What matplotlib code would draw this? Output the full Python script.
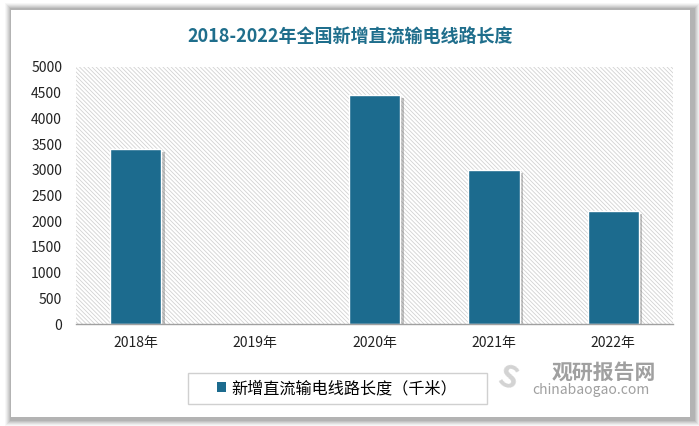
import matplotlib
matplotlib.use("Agg")
import matplotlib.pyplot as plt
from matplotlib.patches import Rectangle
import matplotlib.patheffects as pe

plt.rcParams['font.family'] = ['Noto Sans CJK SC', 'DejaVu Sans']
plt.rcParams['hatch.color'] = '#d2d2d2'
plt.rcParams['hatch.linewidth'] = 0.6

title = "2018-2022年全国新增直流输电线路长度"
categories = ["2018年", "2019年", "2020年", "2021年", "2022年"]
values = [3400, 0, 4450, 3000, 2200]
series_name = "新增直流输电线路长度（千米）"
yticks = [0, 500, 1000, 1500, 2000, 2500, 3000, 3500, 4000, 4500, 5000]

W, H = 699, 426
fig = plt.figure(figsize=(W / 100, H / 100), dpi=100)
fig.patch.set_facecolor('white')

def fx(x):
    return x / W

def fy(y):
    return 1 - y / H

# card shadow (soft)
cx0, cy0, cx1, cy1 = 11, 10, 690, 417
for i, a in enumerate([0.03, 0.04, 0.05, 0.06, 0.07, 0.08]):
    d = 8 - i
    fig.patches.append(Rectangle((fx(cx0 - d + 2), fy(cy1 + d + 1)),
                                 fx(cx1 - cx0 + 2 * d), (cy1 - cy0 + 2 * d) / H,
                                 transform=fig.transFigure, facecolor='black',
                                 edgecolor='none', alpha=a, zorder=0))
fig.patches.append(Rectangle((fx(cx0), fy(cy1)), fx(cx1 - cx0), (cy1 - cy0) / H,
                             transform=fig.transFigure, facecolor='white',
                             edgecolor='none', zorder=1))

ax_l, ax_r, ax_t, ax_b = 76, 673, 67, 324
ax = fig.add_axes([fx(ax_l), fy(ax_b), fx(ax_r - ax_l), (ax_b - ax_t) / H])
ax.set_facecolor('none')
ax.set_zorder(2)

ax.add_patch(Rectangle((0, 0), 1, 1, transform=ax.transAxes, facecolor='white',
                       edgecolor='#d2d2d2', linewidth=0, hatch='\\' * 8, zorder=0))

x = list(range(len(categories)))
bars = ax.bar(x, values, width=0.43, color='#1c6b8e', edgecolor='white',
              linewidth=1.0, zorder=3, label=series_name)
for b in bars:
    if b.get_height() > 0:
        b.set_path_effects([pe.SimplePatchShadow(offset=(2.5, -2), shadow_rgbFace='#555555', alpha=0.35),
                            pe.Normal()])

ax.set_xlim(-0.5, len(categories) - 0.5)
ax.set_ylim(0, 5000)
ax.set_yticks(yticks)
ax.set_yticklabels([str(v) for v in yticks], fontsize=10, color='#222222')
ax.set_xticks(x)
ax.set_xticklabels(categories, fontsize=10, color='#222222')
ax.tick_params(axis='both', length=0)
ax.tick_params(axis='y', pad=10)
ax.tick_params(axis='x', pad=9)
for s in ['top', 'right', 'left']:
    ax.spines[s].set_visible(False)
ax.spines['bottom'].set_color('#a0a0a0')
ax.spines['bottom'].set_linewidth(1.0)
ax.spines['bottom'].set_zorder(4)

fig.text(fx(350), fy(36), title, ha='center', va='center', fontsize=13,
         fontweight='bold', color='#1f6e8c', zorder=5)

# legend box
lx0, ly0, lx1, ly1 = 188, 373, 487, 404
fig.patches.append(Rectangle((fx(lx0), fy(ly1)), fx(lx1 - lx0), (ly1 - ly0) / H,
                             transform=fig.transFigure, facecolor='white',
                             edgecolor='#d0d0d0', linewidth=1.0, zorder=3))
leg = fig.legend(handles=[bars], labels=[series_name], loc='center',
                 bbox_to_anchor=(fx(337), fy(388.5)), frameon=False, fontsize=11.6,
                 handlelength=0.55, handleheight=0.55, handletextpad=0.3,
                 borderpad=0.0)
for h in leg.legend_handles:
    h.set_path_effects([])
    h.set_edgecolor('none')
leg.set_zorder(6)

# watermark
fig.text(fx(604), fy(372), "观研报告网", ha='center', va='center', fontsize=15,
         fontweight='bold', color='#8f8f8f', alpha=0.85, zorder=7)
fig.text(fx(591), fy(390), "chinabaogao.com", ha='center', va='center', fontsize=10,
         color='#8f8f8f', alpha=0.85, zorder=7)
fig.text(fx(508), fy(379), "S", ha='center', va='center', fontsize=22,
         fontweight='bold', color='#c8c8c8', alpha=0.8, zorder=7, rotation=-20)

fig.savefig("out.png", dpi=100, facecolor='white')
